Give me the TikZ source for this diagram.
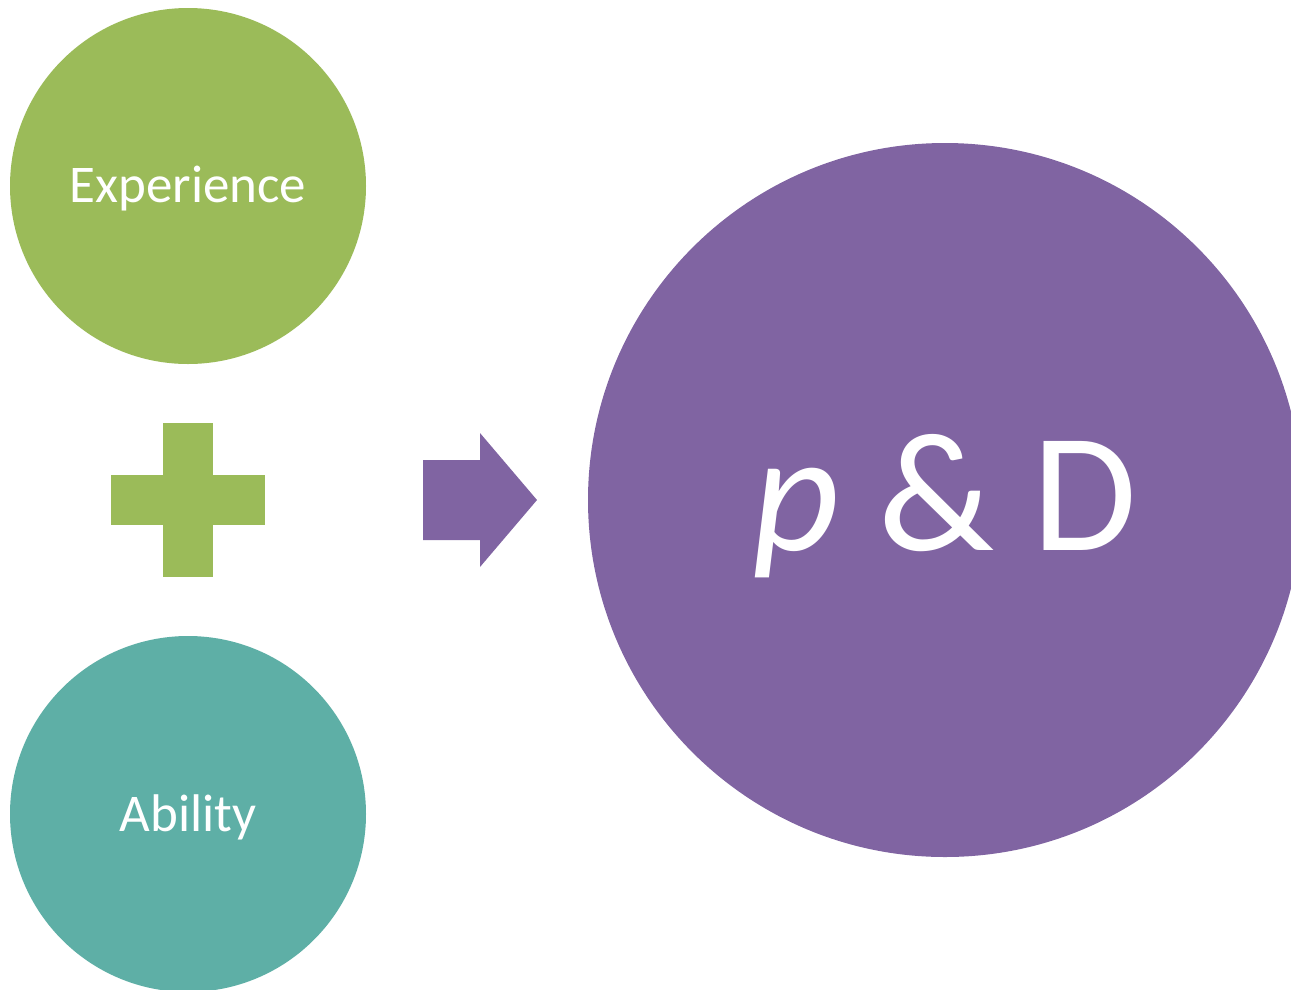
\documentclass[tikz,border=0pt]{standalone}
\usepackage{fontspec}
\setmainfont{Carlito}
\usetikzlibrary{positioning}

\definecolor{expgreen}{HTML}{9BBB59}
\definecolor{ablteal}{HTML}{5EAFA6}
\definecolor{pdpurple}{HTML}{8064A2}

\begin{document}
\begin{tikzpicture}[x=1pt, y=-1pt]

  \tikzset{bubble/.style={circle, inner sep=0pt, minimum size=356pt},
    bubbletext/.style={text=white, font=\fontsize{53}{62}\selectfont}};

  \clip (0, 0) rectangle (1291, 989);

  \node[bubble, fill=expgreen] (exp) at (188, 186) {};
  \node[bubbletext] (exptext) at ([yshift=-3pt]exp.center) {Experience};
  \node[bubble, fill=ablteal] (abl) at (188, 814) {};
  \node[bubbletext] (abltext) at ([yshift=-3pt]abl.center) {Ability};
  \node[bubble, fill=pdpurple, minimum size=714pt] (pd) at (945, 500) {};
  \node[bubbletext, font=\fontsize{170}{200}\selectfont] (pdtext)
    at ([yshift=-6pt]pd.center) {\textit{p} \& D};

  %% plus between the two small circles
  \coordinate (plus) at (188, 500);
  \fill[expgreen] (plus) +(-77, -25) rectangle +(77, 25);
  \fill[expgreen] (plus) +(-25, -77) rectangle +(25, 77);

  %% arrow towards the big circle
  \coordinate (tip) at (537, 500);
  \fill[pdpurple] (tip) -- +(-57, -67) -- +(-57, -40) -- +(-114, -40)
    -- +(-114, 40) -- +(-57, 40) -- +(-57, 67) -- cycle;

\end{tikzpicture}
\end{document}
